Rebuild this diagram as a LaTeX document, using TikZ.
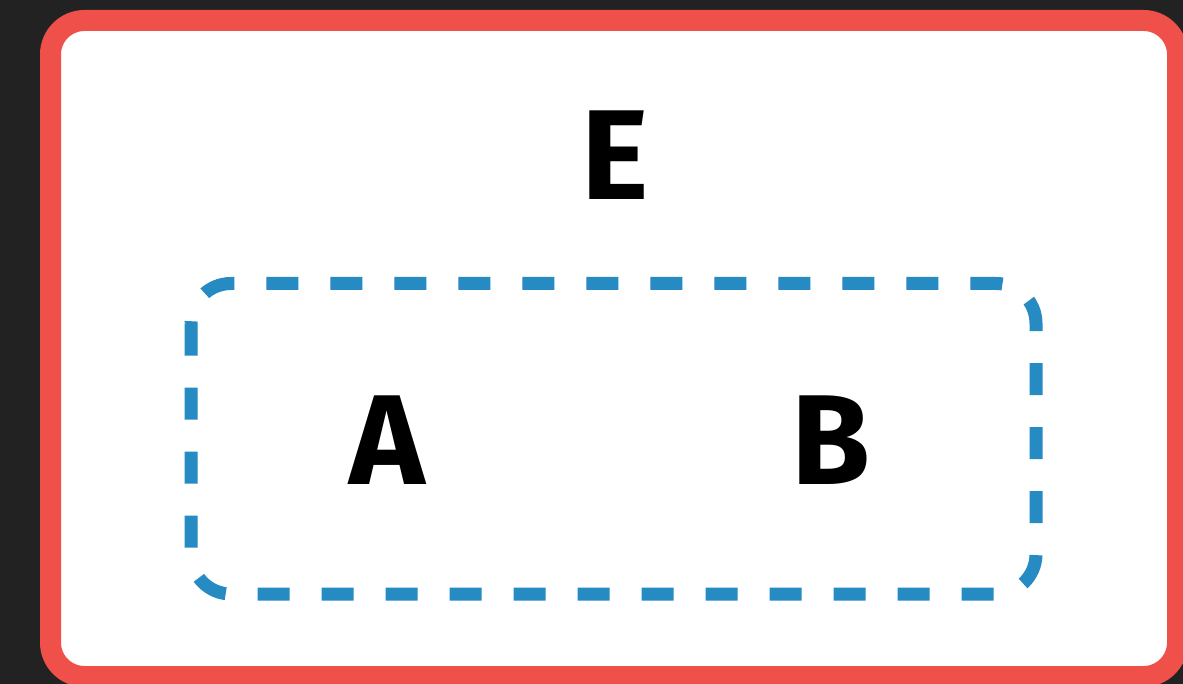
\documentclass[tikz,border=0pt]{standalone}
\usepackage{fontspec}
\setmainfont{Fira Sans}
\definecolor{bgdark}{HTML}{222222}
\definecolor{framered}{HTML}{F0504A}
\definecolor{setblue}{HTML}{268BC2}
\begin{document}
\begin{tikzpicture}[x=0.5pt, y=-0.5pt,
  letter/.style={font=\fontsize{64}{64}\selectfont\bfseries, inner sep=0pt}]
  % Background
  \fill[bgdark] (0,0) rectangle (1183,684);
  \useasboundingbox (0,0) rectangle (1183,684);

  % Corners
  \coordinate (E1) at (50.5,20.5);
  \coordinate (E2) at (1177.5,676.5);
  \coordinate (S1) at (191,283.5);
  \coordinate (S2) at (1036,594);

  % Outer set
  \draw[framered, fill=white, line width=10.5pt, rounded corners=17pt] (E1) rectangle (E2);

  % Inner set
  \draw[setblue, line width=6.5pt, dash pattern=on 16pt off 16pt, rounded corners=20pt] (S1) rectangle (S2);

  % Labels
  \node[letter] (e) at (615,155) {E};
  \node[letter] (a) at (387,440) {A};
  \node[letter] (b) at (831,440) {B};
\end{tikzpicture}
\end{document}
